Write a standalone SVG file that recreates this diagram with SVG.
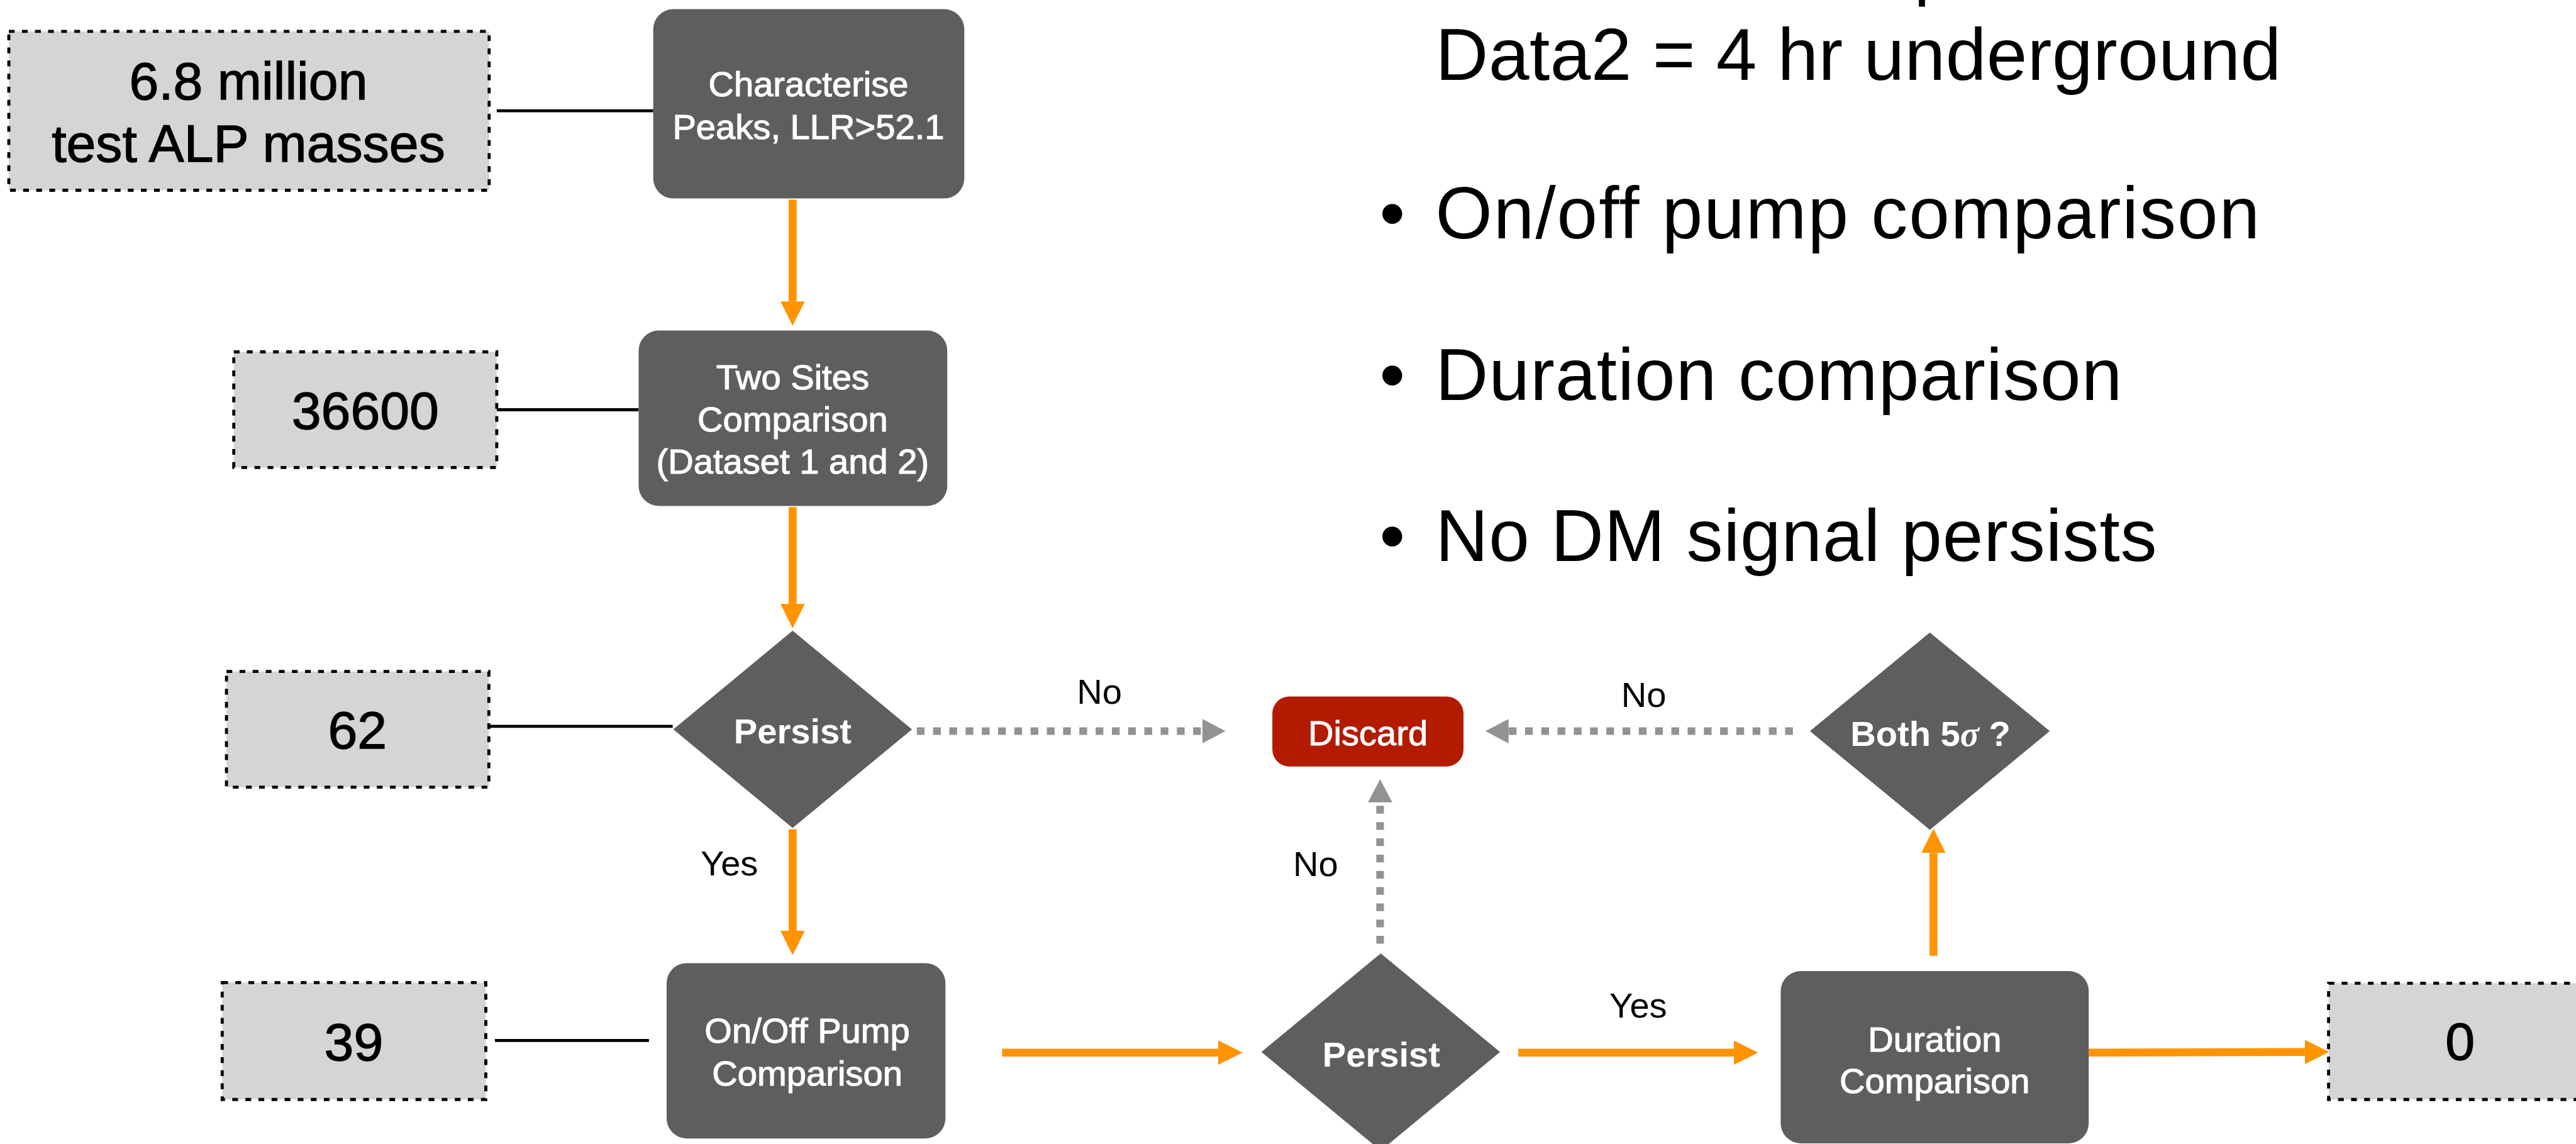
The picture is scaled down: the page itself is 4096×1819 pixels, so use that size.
<svg xmlns="http://www.w3.org/2000/svg" width="4096" height="1819" viewBox="0 0 4096 1819">
<defs>
<style>
.count rect{fill:#d5d5d5;stroke:#000;stroke-width:5;stroke-dasharray:9.5 12}
.count text{font-family:"Liberation Sans",Arial,sans-serif;font-size:87px;fill:#000;stroke:#000;stroke-width:1.4;text-anchor:middle}
.proc rect,.proc polygon{fill:#5e5e5e}
.proc text{font-family:"Liberation Sans",Arial,sans-serif;font-size:58px;fill:#fff;stroke:#fff;stroke-width:1.2;text-anchor:middle}
.dec text{font-weight:bold;stroke-width:0}
.lbl{font-family:"Liberation Sans",Arial,sans-serif;font-size:58px;fill:#000;text-anchor:middle}
.big{font-family:"Liberation Sans",Arial,sans-serif;font-size:120px;fill:#000}
.link{stroke:#000;stroke-width:5;fill:none}
.yes{stroke:#ff9300;stroke-width:13;fill:none;marker-end:url(#ah-o)}
.no{stroke:#929292;stroke-width:12.5;fill:none;stroke-dasharray:12.7 14;marker-end:url(#ah-g)}
</style>
<marker id="ah-o" markerUnits="userSpaceOnUse" viewBox="0 -20 40 40" markerWidth="40" markerHeight="40" refX="0" refY="0" orient="auto"><path d="M0,-20 L40,0 L0,20 Z" fill="#ff9300"/></marker>
<marker id="ah-g" markerUnits="userSpaceOnUse" viewBox="0 -20 38 40" markerWidth="38" markerHeight="40" refX="0" refY="0" orient="auto"><path d="M0,-20 L38,0 L0,20 Z" fill="#929292"/></marker>
</defs>
<rect width="4096" height="1819" fill="#fff"/>
<g transform="scale(0.968)">
<g id="connectors">
<line class="link" x1="816" y1="182" x2="1073" y2="182"/>
<line class="link" x1="816" y1="673" x2="1049" y2="673"/>
<line class="link" x1="801" y1="1193" x2="1105" y2="1193"/>
<line class="link" x1="813" y1="1709" x2="1066" y2="1709"/>
<line class="yes" x1="1302" y1="328" x2="1302" y2="495"/>
<line class="yes" x1="1302" y1="833" x2="1302" y2="992"/>
<line class="yes" x1="1302" y1="1362" x2="1302" y2="1529"/>
<line class="yes" x1="1646" y1="1729" x2="2001" y2="1729"/>
<line class="yes" x1="2494" y1="1729" x2="2848" y2="1729"/>
<line class="yes" x1="3176" y1="1570" x2="3176" y2="1401"/>
<line class="yes" x1="3431" y1="1729" x2="3786" y2="1728"/>
<line class="no" x1="1506" y1="1201" x2="1975" y2="1201"/>
<line class="no" x1="2945" y1="1201" x2="2478" y2="1201"/>
<line class="no" x1="2267" y1="1550" x2="2267" y2="1318"/>
<text class="lbl" x="1806" y="1156">No</text>
<text class="lbl" x="2700" y="1161">No</text>
<text class="lbl" x="2161" y="1439">No</text>
<text class="lbl" x="1198" y="1438">Yes</text>
<text class="lbl" x="2691" y="1671">Yes</text>
</g>
<g id="count-68m" class="count"><rect x="14.5" y="51.5" width="789" height="261"/><text x="408" y="163">6.8 million</text><text x="408" y="265">test ALP masses</text></g>
<g id="count-36600" class="count"><rect x="384" y="578" width="432" height="190"/><text x="600" y="705">36600</text></g>
<g id="count-62" class="count"><rect x="372" y="1103" width="431" height="190"/><text x="587" y="1229">62</text></g>
<g id="count-39" class="count"><rect x="365" y="1614" width="433" height="192"/><text x="581" y="1742">39</text></g>
<g id="count-0" class="count"><rect x="3825" y="1615" width="433" height="191"/><text x="4041" y="1741" stroke-width="0">0</text></g>
<g id="characterise" class="proc"><rect x="1073" y="15" width="511" height="311" rx="33"/><text x="1328" y="158">Characterise</text><text x="1328" y="228">Peaks, LLR&gt;52.1</text></g>
<g id="two-sites" class="proc"><rect x="1049" y="543" width="507" height="288" rx="33"/><text x="1302" y="639">Two Sites</text><text x="1302" y="709">Comparison</text><text x="1302" y="778">(Dataset 1 and 2)</text></g>
<g id="persist-1" class="proc dec"><polygon points="1302,1036 1498,1198 1302,1360 1106,1198"/><text x="1302" y="1221">Persist</text></g>
<g id="onoff" class="proc"><rect x="1095" y="1582" width="458" height="288" rx="33"/><text x="1326" y="1713">On/Off Pump</text><text x="1326" y="1783">Comparison</text></g>
<g id="discard"><rect x="2090" y="1144" width="314" height="115" rx="28" fill="#b31b00"/><text x="2247" y="1224" font-family="Liberation Sans, Arial, sans-serif" font-size="58" fill="#fff" stroke="#fff" stroke-width="1" text-anchor="middle">Discard</text></g>
<g id="persist-2" class="proc dec"><polygon points="2268,1566 2464,1728 2268,1890 2072,1728"/><text x="2269" y="1752">Persist</text></g>
<g id="both5sigma" class="proc dec"><polygon points="3170,1039 3367,1201 3170,1363 2973,1201"/><text x="3171" y="1225">Both 5<tspan font-family="Liberation Serif, serif" font-style="italic" font-weight="bold">σ</tspan> ?</text></g>
<g id="duration" class="proc"><rect x="2925" y="1595" width="506" height="283" rx="33"/><text x="3178" y="1727">Duration</text><text x="3178" y="1795">Comparison</text></g>
<g id="notes">
<rect x="3152" y="0" width="10" height="11" fill="#000"/>
<text class="big" x="2358" y="131" textLength="1389" lengthAdjust="spacing">Data2 = 4 hr underground</text>
<text class="big" x="2266" y="392">•</text><text class="big" x="2358" y="392" textLength="1354" lengthAdjust="spacing">On/off pump comparison</text>
<text class="big" x="2266" y="657">•</text><text class="big" x="2358" y="657" textLength="1128" lengthAdjust="spacing">Duration comparison</text>
<text class="big" x="2266" y="922">•</text><text class="big" x="2358" y="922" textLength="1185" lengthAdjust="spacing">No DM signal persists</text>
</g>
</g>
</svg>
